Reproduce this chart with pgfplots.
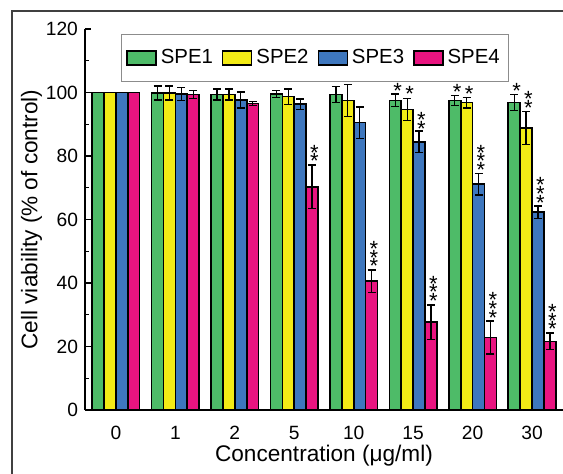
\documentclass[border=0pt]{standalone}
\usepackage{fontspec}
\setmainfont{Liberation Sans}
\usepackage{pgfplots}
\usepackage{pgfplotstable}
\pgfplotsset{compat=1.18}
\definecolor{spegreen}{RGB}{78,187,104}
\definecolor{speyellow}{RGB}{243,235,22}
\definecolor{speblue}{RGB}{62,119,190}
\definecolor{spepink}{RGB}{233,20,128}

% x = concentration index, mean viability and SD per extract
\pgfplotstableread{
x  a     ea   b     eb   c     ec   d     ed
0  100   0    100   0    100   0    100   0
1  99.9  2.2  99.9  2.2  99.5  2.0  99.4  1.2
2  99.4  1.7  99.4  1.7  97.6  2.5  96.5  0.6
3  99.6  1.1  98.7  2.4  96.3  1.6  70.3  6.9
4  99.4  2.5  97.5  5.0  90.5  4.9  40.6  3.5
5  97.5  2.0  94.7  3.5  84.5  3.4  27.7  5.4
6  97.5  1.5  96.8  1.7  71.1  3.4  22.8  5.2
7  96.8  2.5  88.8  5.2  62.3  2.0  21.6  2.6
}\viability

% significance marks: x, centre of the lowest star, number of stars
\pgfplotstableread{
x     y      n
3.34  79.3   2
4.34  46.3   3
4.74  101.6  1
4.94  100.4  1
5.14  89.6   2
5.34  35.3   3
5.74  101.1  1
5.94  100.6  1
6.14  76.6   3
6.34  30.1   3
6.74  101.5  1
6.94  96.2   2
7.14  66.3   3
7.34  26.4   3
}\stars

\newcommand\starstack[1]{\ifcase#1\or*\or*\llap{\raisebox{4.3pt}{*}}\or*\llap{\raisebox{4.3pt}{*}}\llap{\raisebox{8.6pt}{*}}\fi}

\begin{document}
\begin{tikzpicture}
\path[use as bounding box] (-42.5pt,-31.5pt) rectangle (239pt,205pt);
\draw[black!75, line width=0.6pt] (-36.5pt,-40pt) -- (-36.5pt,199.5pt) -- (250pt,199.5pt);
\begin{axis}[
  scale only axis,
  width=239pt, height=190.5pt,
  xmin=-0.52, xmax=7.52,
  ymin=0, ymax=120,
  axis x line=bottom, axis y line=left,
  axis line style={-, line width=0.6pt},
  xtick=data,
  xticklabels={0,1,2,5,10,15,20,30},
  x tick style={draw=none},
  ytick={0,20,...,120},
  minor ytick={10,30,...,110},
  tick align=inside,
  major tick length=3pt, minor tick length=2pt,
  y tick style={line width=0.6pt, black},
  tick label style={font=\fontsize{9.6}{11}\selectfont},
  /pgf/number format/assume math mode=true,
  xticklabel style={yshift=-1.5pt},
  xlabel={Concentration (μg/ml)},
  ylabel={Cell viability (\% of control)},
  label style={font=\fontsize{11.3}{13}\selectfont},
  xlabel style={yshift=4pt},
  ylabel style={yshift=-5pt},
  ybar=0pt,
  bar width=0.2,
  error bars/error bar style={line width=0.7pt, black},
  error bars/error mark options={rotate=90, mark size=2pt, line width=0.7pt, black},
  legend style={at={(0.075,0.987)}, anchor=north west, draw=black!45,
    line width=0.6pt, font=\fontsize{10.2}{12}\selectfont,
    legend columns=4, inner xsep=2.5pt, inner ysep=5.5pt,
    /tikz/every even column/.append style={column sep=2.5pt}},
  legend image code/.code={\draw[#1, line width=0.7pt] (0pt,-3.5pt) rectangle (14.5pt,3.5pt);},
  clip=false,
]
\addplot[fill=spegreen, draw=black, line width=0.8pt, bar shift=-0.3,
  error bars/.cd, y dir=both, y explicit]
  table[x=x, y=a, y error=ea] {\viability};
\addlegendentry{SPE1}
\addplot[fill=speyellow, draw=black, line width=0.8pt, bar shift=-0.1,
  error bars/.cd, y dir=both, y explicit]
  table[x=x, y=b, y error=eb] {\viability};
\addlegendentry{SPE2}
\addplot[fill=speblue, draw=black, line width=0.8pt, bar shift=0.1,
  error bars/.cd, y dir=both, y explicit]
  table[x=x, y=c, y error=ec] {\viability};
\addlegendentry{SPE3}
\addplot[fill=spepink, draw=black, line width=0.8pt, bar shift=0.3,
  error bars/.cd, y dir=both, y explicit]
  table[x=x, y=d, y error=ed] {\viability};
\addlegendentry{SPE4}
\addplot[draw=none, mark=none, forget plot, sharp plot,
  point meta=explicit symbolic,
  nodes near coords={\starstack{\pgfplotspointmeta}},
  every node near coord/.style={anchor=base, yshift=-5.3pt, inner sep=0pt,
    font=\fontsize{11}{12}\selectfont, black}]
  table[x=x, y=y, meta=n] {\stars};
\end{axis}
\end{tikzpicture}
\end{document}
